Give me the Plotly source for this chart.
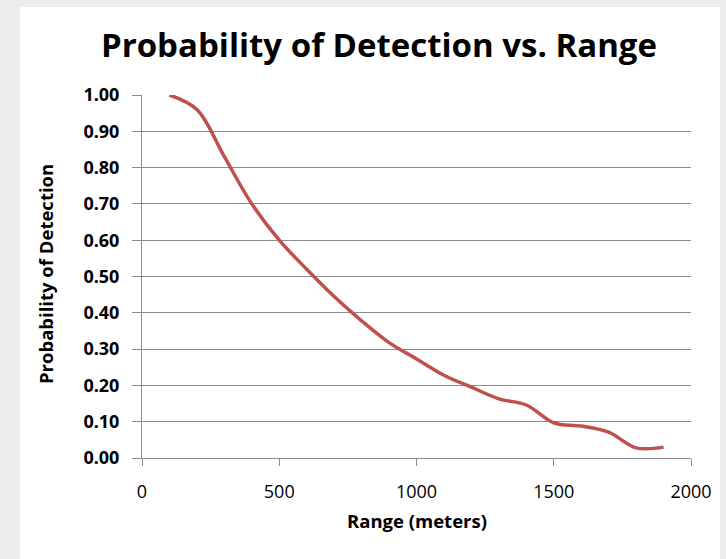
import plotly.graph_objects as go

range_m = [100, 200, 300, 400, 500, 600, 700, 800, 900, 1000,
           1100, 1200, 1300, 1400, 1500, 1600, 1700, 1800, 1900]
prob_detect = [1.00, 0.96, 0.83, 0.70, 0.60, 0.52, 0.445, 0.378, 0.318, 0.273,
               0.228, 0.195, 0.163, 0.146, 0.097, 0.088, 0.071, 0.028, 0.030]

y_ticks = [0.0, 0.1, 0.2, 0.3, 0.4, 0.5, 0.6, 0.7, 0.8, 0.9, 1.0]
y_ticklabels = ["0.00", "0.10", "0.20", "0.30", "0.40", "0.50",
                "0.60", "0.70", "0.80", "0.90", "1.00"]
x_ticks = [0, 500, 1000, 1500, 2000]

W, H = 726, 559
L, R, T, B = 142, 35, 95, 101
pw, ph = W - L - R, H - T - B

def px_x(p):
    return (p - L) / pw

def px_y(p):
    return (H - B - p) / ph

FONT = "Open Sans"
grid = "#8c8c8c"

fig = go.Figure()
fig.add_trace(go.Scatter(
    x=range_m, y=prob_detect, mode="lines",
    line=dict(color="#c0504d", width=3.5, shape="spline", smoothing=1.0),
    showlegend=False, hoverinfo="skip",
))

fig.update_layout(
    width=W, height=H,
    margin=dict(l=L, r=R, t=T, b=B, pad=0),
    paper_bgcolor="#ececec",
    plot_bgcolor="white",
    title=dict(text="<b>Probability of Detection vs. Range</b>",
               font=dict(family=FONT, size=33, color="#000000"),
               x=379 / W, xanchor="center", y=1 - 45 / H, yanchor="middle"),
    xaxis=dict(range=[0, 2000], tickvals=x_ticks, showgrid=False,
               showline=True, linecolor=grid, linewidth=1,
               ticks="outside", ticklen=7, tickcolor=grid, tickwidth=1,
               tickfont=dict(family=FONT, size=18, color="#000000"),
               ticklabelstandoff=10, zeroline=False, fixedrange=True),
    yaxis=dict(range=[0, 1.0], tickvals=y_ticks, ticktext=y_ticklabels,
               showgrid=True, gridcolor=grid, gridwidth=1,
               showline=True, linecolor=grid, linewidth=1,
               ticks="outside", ticklen=9, tickcolor=grid, tickwidth=1,
               tickfont=dict(family=FONT, size=18, color="#000000", weight="bold"),
               ticklabelstandoff=9, zeroline=False, fixedrange=True),
    shapes=[dict(type="rect", xref="paper", yref="paper", layer="below",
                 x0=px_x(20), x1=px_x(720), y0=px_y(H + 5), y1=px_y(7),
                 fillcolor="white", line=dict(width=0))],
    annotations=[
        dict(text="<b>Range (meters)</b>", xref="paper", yref="paper",
             x=px_x(417), y=px_y(520), xanchor="center", yanchor="middle",
             showarrow=False, font=dict(family=FONT, size=18.5, color="#000000")),
        dict(text="<b>Probability of Detection</b>", xref="paper", yref="paper",
             x=px_x(45), y=px_y(274), xanchor="center", yanchor="middle",
             textangle=-90, showarrow=False,
             font=dict(family=FONT, size=18.5, color="#000000")),
    ],
)

fig.write_html("out.html")
